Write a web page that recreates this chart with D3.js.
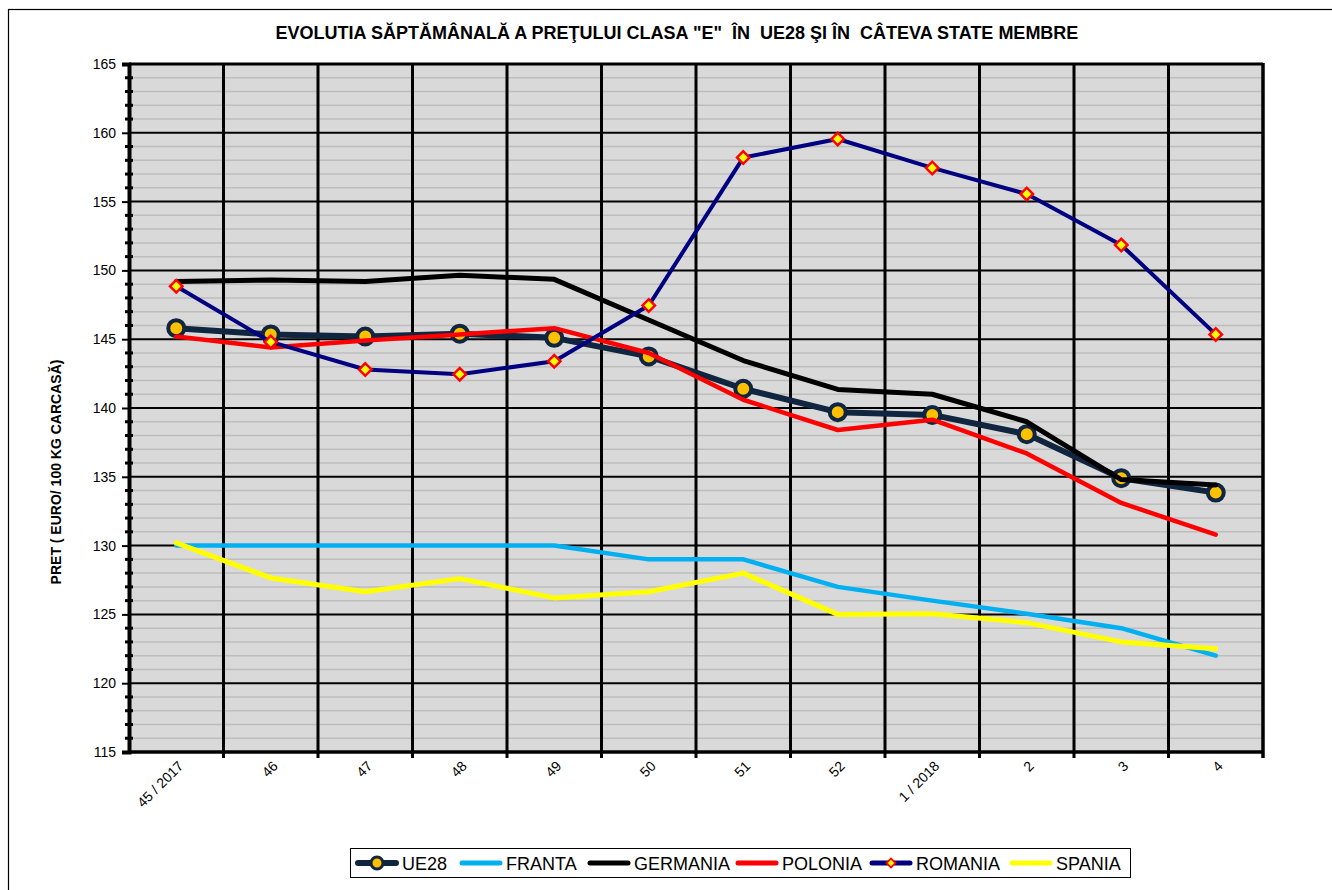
<!DOCTYPE html>
<html>
<head>
<meta charset="utf-8">
<script src="https://cdn.jsdelivr.net/npm/d3@7/dist/d3.min.js"></script>
<style>
  body { margin: 0; background: #fff; }
  svg { display: block; font-family: "Liberation Sans", Arial, sans-serif; }
</style>
</head>
<body>
<div id="chart"></div>
<script>
var width = 1332, height = 890;
var margin = {top: 64, right: 69, bottom: 138, left: 129};

// data
var weeks = ["45 / 2017", "46", "47", "48", "49", "50", "51", "52", "1 / 2018", "2", "3", "4"];
var ue28     = [145.8, 145.35, 145.2, 145.4, 145.1, 143.75, 141.4, 139.7, 139.5, 138.1, 134.9, 133.85];
var franta   = [130.0, 130.0, 130.0, 130.0, 130.0, 129.0, 129.0, 127.0, 126.0, 125.05, 124.0, 122.0];
var germania = [149.2, 149.3, 149.2, 149.65, 149.35, 146.4, 143.45, 141.35, 141.0, 139.0, 134.8, 134.4];
var polonia  = [145.2, 144.4, 144.9, 145.35, 145.8, 144.0, 140.6, 138.4, 139.15, 136.7, 133.1, 130.8];
var romania  = [148.85, 144.8, 142.8, 142.45, 143.4, 147.45, 158.2, 159.55, 157.45, 155.55, 151.85, 145.35];
var spania   = [130.2, 127.65, 126.65, 127.6, 126.2, 126.65, 128.0, 125.0, 125.05, 124.4, 123.0, 122.5];
var yTicks = [115, 120, 125, 130, 135, 140, 145, 150, 155, 160, 165];

var series = [
  {name: "UE28", values: ue28, color: "#10253F", w: 6, marker: "circle"},
  {name: "FRANTA", values: franta, color: "#00B0F0", w: 4.5},
  {name: "GERMANIA", values: germania, color: "#000000", w: 5},
  {name: "POLONIA", values: polonia, color: "#FF0000", w: 4.5},
  {name: "ROMANIA", values: romania, color: "#000080", w: 4, marker: "diamond"},
  {name: "SPANIA", values: spania, color: "#FFFF00", w: 5}
];

var svg = d3.select("#chart").append("svg")
    .attr("width", width)
    .attr("height", height);

// outer chart border
svg.append("rect")
    .attr("x", 8.5).attr("y", 9.5)
    .attr("width", width + 20).attr("height", height + 20)
    .attr("fill", "none").attr("stroke", "#000").attr("stroke-width", 1.2);

svg.append("text")
    .attr("x", 677).attr("y", 39)
    .attr("text-anchor", "middle")
    .attr("font-weight", "bold")
    .attr("font-size", 18)
    .style("white-space", "pre")
    .text("EVOLUTIA SĂPTĂMÂNALĂ A PREŢULUI CLASA \"E\"  ÎN  UE28 ŞI ÎN  CÂTEVA STATE MEMBRE");

var pw = width - margin.left - margin.right,
    ph = height - margin.top - margin.bottom;

var g = svg.append("g")
    .attr("transform", "translate(" + margin.left + "," + margin.top + ")");

var xBand = d3.scaleBand().domain(weeks).range([0, pw]);
var x = d3.scalePoint().domain(weeks).range([0, pw]).padding(0.5);
var y = d3.scaleLinear().domain([115, 165]).range([ph, 0]);

g.append("rect")
    .attr("width", pw).attr("height", ph)
    .attr("fill", "#D9D9D9");

// minor grid every 1 unit
var minor = d3.range(116, 165).filter(function(v) { return v % 5 !== 0; });
g.selectAll(".minor")
    .data(minor)
    .enter().append("line")
    .attr("x1", 0).attr("x2", pw)
    .attr("y1", function(d) { return y(d); })
    .attr("y2", function(d) { return y(d); })
    .attr("stroke", "#BDBDBD").attr("stroke-width", 1.5);

// major grid
g.selectAll(".major")
    .data(yTicks)
    .enter().append("line")
    .attr("x1", 0).attr("x2", pw)
    .attr("y1", function(d) { return y(d); })
    .attr("y2", function(d) { return y(d); })
    .attr("stroke", "#000").attr("stroke-width", 2);

// vertical category dividers
g.selectAll(".vgrid")
    .data(weeks.slice(1))
    .enter().append("line")
    .attr("x1", function(d) { return xBand(d); })
    .attr("x2", function(d) { return xBand(d); })
    .attr("y1", 0).attr("y2", ph + 6)
    .attr("stroke", "#000").attr("stroke-width", 3);

// plot frame
g.append("line").attr("x1", 0).attr("x2", pw).attr("y1", 0).attr("y2", 0)
    .attr("stroke", "#000").attr("stroke-width", 3);
g.append("line").attr("x1", pw).attr("x2", pw).attr("y1", -1).attr("y2", ph + 6)
    .attr("stroke", "#000").attr("stroke-width", 3.5);
g.append("line").attr("x1", 0).attr("x2", pw).attr("y1", ph).attr("y2", ph)
    .attr("stroke", "#000").attr("stroke-width", 3.5);

// y axis
var yAxis = d3.axisLeft(y).tickValues(yTicks).tickSize(7).tickPadding(6);
var ya = g.append("g").call(yAxis);
ya.select(".domain").attr("stroke-width", 4);
ya.selectAll(".tick line").attr("stroke-width", 2);
ya.selectAll(".tick text").attr("font-size", 14).attr("fill", "#000");

g.selectAll(".ytickminor")
    .data(minor)
    .enter().append("line")
    .attr("x1", -4).attr("x2", 4)
    .attr("y1", function(d) { return y(d); })
    .attr("y2", function(d) { return y(d); })
    .attr("stroke", "#000").attr("stroke-width", 3);

// x labels
var xa = g.append("g").attr("transform", "translate(0," + ph + ")");
xa.selectAll("text")
    .data(weeks)
    .enter().append("text")
    .attr("transform", function(d) {
      return "translate(" + (x(d) + 8) + ",15) rotate(-45)";
    })
    .attr("text-anchor", "end")
    .attr("font-size", 14)
    .text(function(d) { return d; });

g.append("text")
    .attr("transform", "translate(" + (61 - margin.left) + "," + (472 - margin.top) + ") rotate(-90)")
    .attr("text-anchor", "middle")
    .attr("font-weight", "bold")
    .attr("font-size", 14)
    .text("PRET ( EURO/ 100 KG CARCASĂ)");

var line = d3.line()
    .x(function(d, i) { return x(weeks[i]); })
    .y(function(d) { return y(d); });

function drawMarker(sel, type, size) {
  if (type === "circle") {
    sel.append("circle").attr("r", size)
      .attr("fill", "#FFC000").attr("stroke", "#10253F").attr("stroke-width", size * 0.5);
  } else {
    sel.append("path")
      .attr("d", d3.symbol().type(d3.symbolSquare).size(size * size * 1.6))
      .attr("transform", "rotate(45)")
      .attr("fill", "#FFFF00").attr("stroke", "#FF0000").attr("stroke-width", size * 0.35);
  }
}

series.forEach(function(s) {
  g.append("path")
    .datum(s.values)
    .attr("d", line)
    .attr("fill", "none")
    .attr("stroke", s.color)
    .attr("stroke-width", s.w)
    .attr("stroke-linejoin", "round")
    .attr("stroke-linecap", "round");
  if (s.marker) {
    s.values.forEach(function(v, i) {
      var m = g.append("g")
        .attr("transform", "translate(" + x(weeks[i]) + "," + y(v) + ")");
      drawMarker(m, s.marker, s.marker === "circle" ? 8 : 7);
    });
  }
});

// legend
var lg = svg.append("g").attr("transform", "translate(350,848)");
lg.append("rect")
    .attr("x", 0.5).attr("y", 0.5).attr("width", 780).attr("height", 29)
    .attr("fill", "#fff").attr("stroke", "#000").attr("stroke-width", 1);
var legendX = [8, 112, 240, 388, 522, 662];
series.forEach(function(s, i) {
  var it = lg.append("g").attr("transform", "translate(" + legendX[i] + ",15)");
  it.append("line")
    .attr("x1", 0).attr("x2", 38)
    .attr("stroke", s.color).attr("stroke-width", s.name === "UE28" ? 6 : 5)
    .attr("stroke-linecap", "round");
  if (s.marker) {
    var m = it.append("g").attr("transform", "translate(19,0)");
    drawMarker(m, s.marker, s.marker === "circle" ? 6 : 5);
  }
  it.append("text")
    .attr("x", 44).attr("y", 6.5)
    .attr("font-size", 18)
    .text(s.name);
});
</script>
</body>
</html>
